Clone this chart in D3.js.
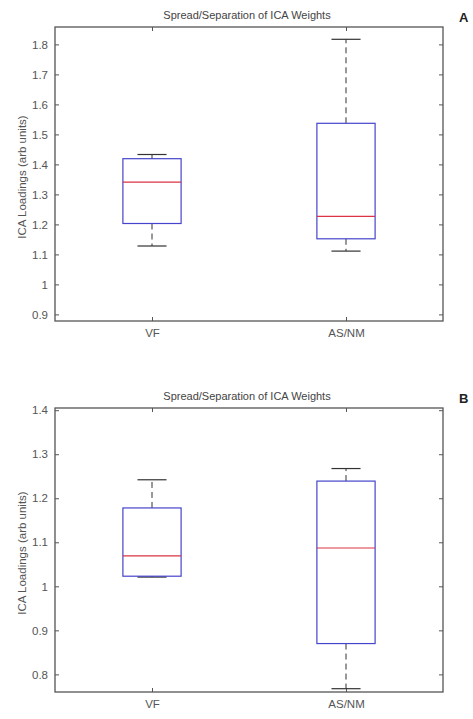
<!DOCTYPE html>
<html>
<head>
<meta charset="utf-8">
<script src="https://cdn.jsdelivr.net/npm/d3@7"></script>
<style>
  body { margin: 0; background: #fff; }
  text { font-family: "Liberation Sans", Arial, sans-serif; }
</style>
</head>
<body>
<div id="chart"></div>
<script>
const width = 473, height = 719;

// groups on the x axis
const groups = ["VF", "AS/NM"];

// panel A stats: lower whisker, Q1, median, Q3, upper whisker
const statsA = [
  [1.128, 1.203, 1.341, 1.419, 1.433],
  [1.111, 1.152, 1.227, 1.537, 1.817]
];
const ticksA = [0.9, 1, 1.1, 1.2, 1.3, 1.4, 1.5, 1.6, 1.7, 1.8];

// panel B stats
const statsB = [
  [1.021, 1.023, 1.069, 1.178, 1.242],
  [0.7675, 0.870, 1.087, 1.239, 1.2675]
];
const ticksB = [0.8, 0.9, 1, 1.1, 1.2, 1.3, 1.4];

const svg = d3.select("#chart").append("svg")
  .attr("width", width)
  .attr("height", height);

function drawPanel(stats, ticks, domain, top, bottom, letter) {
  const left = 55, right = 443;

  const x = d3.scaleLinear().domain([0.5, 2.5]).range([left, right]);
  const y = d3.scaleLinear().domain(domain).range([bottom, top]);

  const g = svg.append("g");

  // title
  g.append("text")
    .attr("x", (left + right) / 2 - 2)
    .attr("y", top - 8)
    .attr("text-anchor", "middle")
    .style("font-size", "11px")
    .style("fill", "#444")
    .text("Spread/Separation of ICA Weights");

  // panel letter
  g.append("text")
    .attr("x", 459)
    .attr("y", top - 5)
    .style("font-size", "13px")
    .style("font-weight", "bold")
    .style("fill", "#222")
    .text(letter);

  // y label
  g.append("text")
    .attr("transform", "translate(26," + ((top + bottom) / 2 + 3) + ") rotate(-90)")
    .attr("text-anchor", "middle")
    .style("font-size", "11.5px")
    .style("fill", "#555")
    .text("ICA Loadings (arb units)");

  // axes, MATLAB style ticks pointing in
  const yl = g.append("g")
    .attr("transform", "translate(" + left + ",0)")
    .call(d3.axisLeft(y).tickValues(ticks).tickSize(-4).tickPadding(7).tickFormat(d3.format("")));
  const yr = g.append("g")
    .attr("transform", "translate(" + right + ",0)")
    .call(d3.axisRight(y).tickValues(ticks).tickSize(-4).tickFormat(""));
  const xb = g.append("g")
    .attr("transform", "translate(0," + bottom + ")")
    .call(d3.axisBottom(x).tickValues([1, 2]).tickSize(-4).tickPadding(8).tickFormat(function(d) { return groups[d - 1]; }));
  const xt = g.append("g")
    .attr("transform", "translate(0," + top + ")")
    .call(d3.axisTop(x).tickValues([1, 2]).tickSize(-4).tickFormat(""));

  [yl, yr, xb, xt].forEach(function(a) {
    a.select(".domain").remove();
    a.selectAll("line").attr("stroke", "#555");
    a.selectAll("text").style("font-size", "11.5px").style("fill", "#555")
      .style("font-family", "'Liberation Sans', Arial, sans-serif");
  });

  // frame
  g.append("rect")
    .attr("x", left)
    .attr("y", top)
    .attr("width", right - left)
    .attr("height", bottom - top)
    .attr("fill", "none")
    .attr("stroke", "#555")
    .attr("stroke-width", 1.3);

  const half = 0.15, cap = 0.075;

  stats.forEach(function(s, i) {
    const c = i + 1;
    // whiskers
    g.append("line")
      .attr("x1", x(c)).attr("x2", x(c))
      .attr("y1", y(s[3])).attr("y2", y(s[4]))
      .attr("stroke", "#333").attr("stroke-dasharray", "6,4");
    g.append("line")
      .attr("x1", x(c)).attr("x2", x(c))
      .attr("y1", y(s[1])).attr("y2", y(s[0]))
      .attr("stroke", "#333").attr("stroke-dasharray", "6,4");
    // caps
    [s[0], s[4]].forEach(function(v) {
      g.append("line")
        .attr("x1", x(c - cap)).attr("x2", x(c + cap))
        .attr("y1", y(v)).attr("y2", y(v))
        .attr("stroke", "#333").attr("stroke-width", 1.2);
    });
    // box
    g.append("rect")
      .attr("x", x(c - half))
      .attr("y", y(s[3]))
      .attr("width", x(c + half) - x(c - half))
      .attr("height", y(s[1]) - y(s[3]))
      .attr("fill", "none")
      .attr("stroke", "#4444cc")
      .attr("stroke-width", 1.2);
    // median
    g.append("line")
      .attr("x1", x(c - half)).attr("x2", x(c + half))
      .attr("y1", y(s[2])).attr("y2", y(s[2]))
      .attr("stroke", "#dd3344").attr("stroke-width", 1.2);
  });
}

drawPanel(statsA, ticksA, [0.878, 1.858], 27, 321, "A");
drawPanel(statsB, ticksB, [0.76, 1.405], 408, 692, "B");
</script>
</body>
</html>
